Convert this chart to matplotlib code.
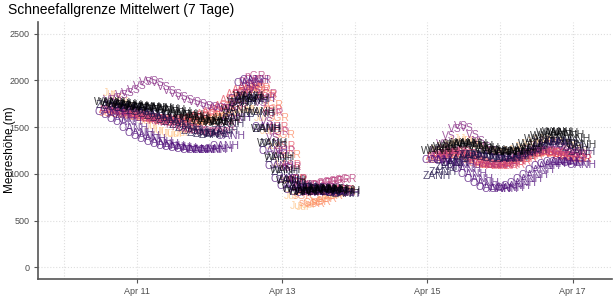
import numpy as np
import pandas as pd
import matplotlib
matplotlib.use("Agg")
import matplotlib.pyplot as plt
import matplotlib.dates as mdates

plt.rcParams['font.family'] = ['Liberation Sans', 'DejaVu Sans']

# regions (colour order in magma palette)
regions = ["WANH", "ZANH", "OANH", "VS", "nGR", "ASR", "sGR", "Jur"]

# first block: 2-hourly from Apr 10 15:00
seg1 = {
    "WANH": [1770, 1760, 1750, 1740, 1730, 1720, 1715, 1710, 1700, 1690,
             1680, 1665, 1645, 1625, 1605, 1585, 1565, 1550, 1545, 1555,
             1600, 1680, 1770, 1830, 1800, 1660, 1480, 1330, 1180, 1040,
             920, 840, 810, 810, 820, 830, 840, 835, 830, 820],
    "ZANH": [1740, 1730, 1715, 1700, 1690, 1675, 1660, 1640, 1620, 1600,
             1575, 1550, 1520, 1490, 1460, 1440, 1425, 1420, 1430, 1460,
             1530, 1640, 1760, 1820, 1780, 1640, 1480, 1320, 1160, 1020,
             930, 880, 860, 850, 850, 840, 830, 810, 790, 780],
    "OANH": [1660, 1630, 1590, 1550, 1490, 1440, 1400, 1370, 1340, 1320,
             1300, 1290, 1280, 1270, 1260, 1255, 1255, 1260, 1270, 1300,
             1400, 1600, 1800, 1970, 2000, 1800, 1500, 1250, 1080, 950,
             870, 830, 810, 800, 805, 810, 815, 810, 800, 790],
    "VS":   [1790, 1810, 1840, 1870, 1900, 1940, 1980, 1990, 1970, 1930,
             1890, 1850, 1820, 1790, 1770, 1750, 1730, 1715, 1700, 1695,
             1710, 1760, 1850, 1920, 1900, 1760, 1560, 1380, 1200, 1060,
             950, 870, 840, 835, 840, 845, 850, 845, 840, 830],
    "nGR":  [1700, 1690, 1675, 1660, 1640, 1620, 1600, 1585, 1570, 1555,
             1540, 1520, 1500, 1485, 1470, 1455, 1445, 1440, 1450, 1490,
             1580, 1720, 1880, 2000, 2050, 2000, 1850, 1650, 1450, 1250,
             1070, 940, 880, 870, 880, 900, 915, 925, 935, 940],
    "ASR":  [1680, 1670, 1660, 1650, 1640, 1630, 1615, 1600, 1590, 1585,
             1580, 1580, 1585, 1590, 1600, 1620, 1640, 1660, 1690, 1730,
             1790, 1850, 1900, 1930, 1950, 1920, 1820, 1680, 1500, 1300,
             1100, 930, 850, 820, 810, 805, 810, 815, 825, 830],
    "sGR":  [1650, 1645, 1640, 1630, 1620, 1610, 1600, 1590, 1580, 1570,
             1560, 1555, 1550, 1545, 1545, 1550, 1560, 1575, 1600, 1650,
             1720, 1800, 1860, 1900, 1920, 1900, 1840, 1740, 1600, 1420,
             1200, 950, 760, 690, 680, 700, 730, 760, 790, 810],
    "Jur":  [1860, 1830, 1790, 1740, 1690, 1630, 1570, 1510, 1470, 1445,
             1430, 1430, 1440, 1470, 1510, 1550, 1580, 1610, 1630, 1645,
             1650, 1655, 1680, 1700, 1680, 1600, 1460, 1300, 1120, 930,
             760, 660, 650, 670, 700, 730, 755, 770, 785, 790],
}

# second block: 2-hourly from Apr 15 03:00
seg2 = {
    "WANH": [1240, 1270, 1290, 1310, 1320, 1325, 1320, 1300, 1280, 1260,
             1245, 1235, 1230, 1235, 1250, 1280, 1320, 1370, 1410, 1435,
             1445, 1440, 1420, 1370, 1310],
    "ZANH": [980, 1020, 1070, 1120, 1160, 1190, 1200, 1200, 1190, 1180,
             1170, 1160, 1160, 1170, 1190, 1220, 1260, 1300, 1330, 1345,
             1350, 1340, 1320, 1280, 1230],
    "OANH": [1150, 1150, 1140, 1120, 1090, 1050, 1000, 950, 900, 860,
             840, 840, 850, 870, 900, 940, 990, 1040, 1080, 1110,
             1125, 1130, 1125, 1115, 1100],
    "VS":   [1250, 1320, 1400, 1480, 1510, 1490, 1420, 1350, 1290, 1240,
             1200, 1180, 1170, 1175, 1190, 1220, 1260, 1290, 1310, 1320,
             1310, 1290, 1260, 1230, 1200],
    "nGR":  [1200, 1210, 1230, 1250, 1240, 1210, 1170, 1130, 1110, 1095,
             1090, 1095, 1110, 1140, 1180, 1210, 1230, 1240, 1240, 1235,
             1230, 1220, 1215, 1210, 1200],
    "ASR":  [1180, 1195, 1210, 1225, 1230, 1210, 1180, 1140, 1110, 1090,
             1080, 1080, 1085, 1100, 1130, 1160, 1190, 1215, 1230, 1225,
             1210, 1195, 1180, 1170, 1160],
    "sGR":  [1150, 1170, 1190, 1200, 1200, 1180, 1150, 1120, 1100, 1095,
             1100, 1110, 1120, 1140, 1160, 1185, 1210, 1225, 1230, 1225,
             1210, 1195, 1180, 1170, 1160],
    "Jur":  [1260, 1290, 1320, 1350, 1370, 1370, 1350, 1310, 1270, 1245,
             1230, 1230, 1240, 1260, 1290, 1320, 1345, 1360, 1370, 1365,
             1355, 1340, 1315, 1290, 1260],
}

t1 = pd.date_range("2021-04-10 15:00", periods=len(seg1["WANH"]), freq="2h")
t2 = pd.date_range("2021-04-15 03:00", periods=len(seg2["WANH"]), freq="2h")

y_ticks = [0, 500, 1000, 1500, 2000, 2500]
x_ticks = ["2021-04-11", "2021-04-13", "2021-04-15", "2021-04-17"]
x_tick_labels = ["Apr 11", "Apr 13", "Apr 15", "Apr 17"]
x_minor = ["2021-04-10", "2021-04-12", "2021-04-14", "2021-04-16"]

colors = plt.cm.magma(np.linspace(0, 0.875, len(regions)))

fig = plt.figure(figsize=(6.16, 3.08), dpi=100)
ax = fig.add_axes([38/616, 1-279/308, (612-38)/616, (279-22)/308])

# light colours first so the dark bands sit on top
for reg, col in list(zip(regions, colors))[::-1]:
    for times, seg in ((t1, seg1), (t2, seg2)):
        for t, v in zip(times, seg[reg]):
            ax.text(mdates.date2num(t), v, reg, color=col, alpha=0.75, fontsize=7.5,
                    ha="center", va="center")

ax.set_xlim(mdates.date2num(pd.Timestamp("2021-04-09 15:20")),
            mdates.date2num(pd.Timestamp("2021-04-17 13:00")))
ax.set_ylim(-125, 2625)
ax.set_yticks(y_ticks)
ax.set_yticklabels([str(v) for v in y_ticks])
ax.set_xticks([mdates.date2num(pd.Timestamp(d)) for d in x_ticks])
ax.set_xticklabels(x_tick_labels)
ax.set_xticks([mdates.date2num(pd.Timestamp(d)) for d in x_minor], minor=True)

ax.grid(True, which="both", axis="x", color="#dedede", linestyle=":", linewidth=0.8)
ax.grid(True, which="major", axis="y", color="#dedede", linestyle=":", linewidth=0.8)
ax.set_axisbelow(True)
for s in ["top", "right"]:
    ax.spines[s].set_visible(False)
for s in ["left", "bottom"]:
    ax.spines[s].set_color("#555555")
    ax.spines[s].set_linewidth(1.2)
ax.tick_params(which="major", length=3, color="#555555", labelsize=6.5, labelcolor="#4d4d4d", pad=3)
ax.tick_params(which="minor", length=0)

fig.text(10/616, 1-150/308, "Meereshöhe (m)", fontsize=8.5, rotation=90, ha="center", va="center")
fig.text(8/616, 1-10/308, "Schneefallgrenze Mittelwert (7 Tage)", fontsize=10, va="center", ha="left")

fig.savefig("out.png", dpi=100)
